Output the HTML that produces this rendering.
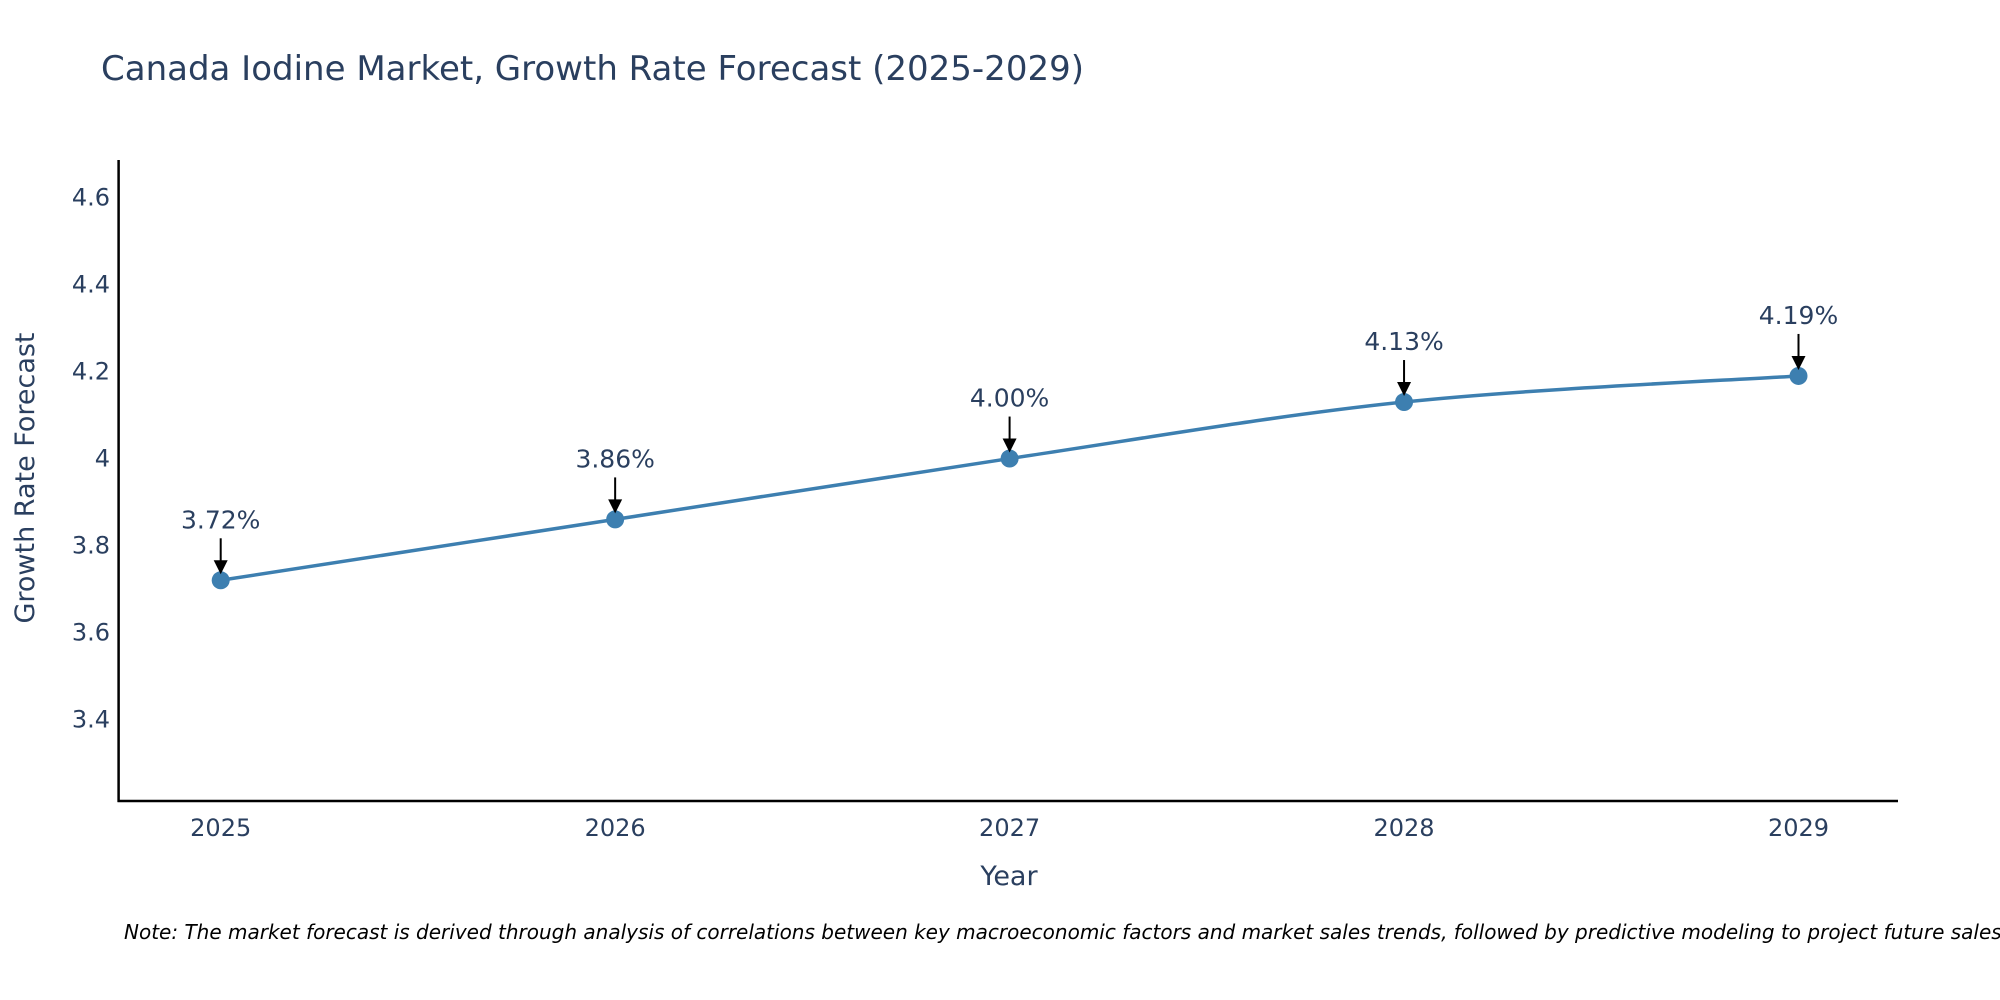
<!DOCTYPE html>
<html><head><meta charset="utf-8"><style>
body{margin:0;background:#fff;}
svg{display:block;font-family:"DejaVu Sans","Liberation Sans",sans-serif;}
</style></head><body>
<svg id="chart" width="2000" height="1000" viewBox="0 0 2000 1000">
<text x="101" y="80" font-size="34" fill="#2a3f5f">Canada Iodine Market, Growth Rate Forecast (2025-2029)</text>
<g id="yticks"></g>
<g id="xticks"></g>
<line x1="118.6" y1="160" x2="118.6" y2="802" stroke="#000" stroke-width="2.5"/>
<line x1="117.5" y1="801" x2="1898" y2="801" stroke="#000" stroke-width="2.5"/>
<text transform="translate(34,478) rotate(-90)" text-anchor="middle" font-size="27" fill="#2a3f5f">Growth Rate Forecast</text>
<text x="1009" y="885" text-anchor="middle" font-size="27" fill="#2a3f5f">Year</text>
<g id="series"></g>
<text x="124" y="939" font-size="20" font-style="italic" fill="#000">Note: The market forecast is derived through analysis of correlations between key macroeconomic factors and market sales trends, followed by predictive modeling to project future sales.</text>
</svg>
<script>
const years = [2025, 2026, 2027, 2028, 2029];
const values = [3.72, 3.86, 4.00, 4.13, 4.19];
const labels = ["3.72%", "3.86%", "4.00%", "4.13%", "4.19%"];
const yTicks = [3.4, 3.6, 3.8, 4, 4.2, 4.4, 4.6];
const yTickLabels = ["3.4", "3.6", "3.8", "4", "4.2", "4.4", "4.6"];

const NS = "http://www.w3.org/2000/svg";
const xScale = v => 220.7 + (v - 2025) * (1798.5 - 220.7) / 4;
const yScale = v => 719.4 - (v - 3.4) * (719.4 - 197.7) / 1.2;
function mk(tag, attrs, parent){const e=document.createElementNS(NS,tag);for(const k in attrs)e.setAttribute(k,attrs[k]);parent.appendChild(e);return e;}

const yt = document.getElementById('yticks');
yTicks.forEach((t,i)=>{
  const e = mk('text',{x:110,y:yScale(t)+8,'text-anchor':'end','font-size':24,fill:'#2a3f5f'},yt);
  
  
  e.textContent = yTickLabels[i];
});
const xt = document.getElementById('xticks');
years.forEach(y=>{
  const e = mk('text',{x:xScale(y),y:836,'text-anchor':'middle','font-size':24,fill:'#2a3f5f'},xt);
  
  
  e.textContent = y;
});

const g = document.getElementById('series');
const pts = years.map((y,i)=>[xScale(y), yScale(values[i])]);
let d = `M${pts[0][0]},${pts[0][1]}`;
const s = 0.5/3;
for(let i=0;i<pts.length-1;i++){
  const p0=pts[Math.max(0,i-1)],p1=pts[i],p2=pts[i+1],p3=pts[Math.min(pts.length-1,i+2)];
  const c1=[p1[0]+(p2[0]-p0[0])*s,p1[1]+(p2[1]-p0[1])*s];
  const c2=[p2[0]-(p3[0]-p1[0])*s,p2[1]-(p3[1]-p1[1])*s];
  d+=` C${c1[0]},${c1[1]} ${c2[0]},${c2[1]} ${p2[0]},${p2[1]}`;
}
const line = mk('path',{d:d,fill:'none',stroke:'#3d7fb0','stroke-width':3.5},g);



pts.forEach((p,i)=>{
  const c = mk('circle',{cx:p[0],cy:p[1],r:9,fill:'#3d7fb0'},g);
  
  
  const a = mk('line',{x1:p[0],y1:p[1]-42,x2:p[0],y2:p[1]-18,stroke:'#000','stroke-width':2},g);
  
  
  const h = mk('polygon',{points:`${p[0]-7},${p[1]-20} ${p[0]+7},${p[1]-20} ${p[0]},${p[1]-6}`,fill:'#000'},g);
  
  
  const t = mk('text',{x:p[0],y:p[1]-52,'text-anchor':'middle','font-size':25,fill:'#2a3f5f'},g);
  
  
  t.textContent = labels[i];
});
</script>
</body></html>
